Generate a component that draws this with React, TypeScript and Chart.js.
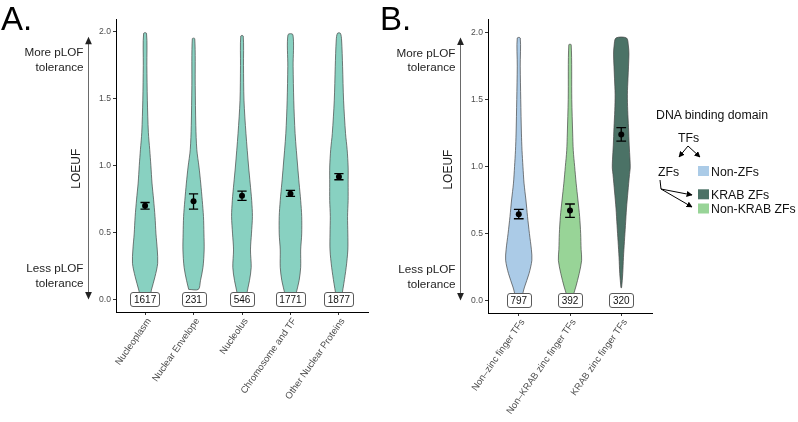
import React, { useEffect, useRef } from "react";
import { Chart, registerables } from "chart.js";

Chart.register(...registerables);

const FONT = "'Liberation Sans', Arial, Helvetica, sans-serif";
Chart.defaults.font.family = FONT;

// ---------------- Panel A data ----------------
const categoriesA = [
  "Nucleoplasm",
  "Nuclear Envelope",
  "Nucleolus",
  "Chromosome and TF",
  "Other Nuclear Proteins",
];
const countsA = [1617, 231, 546, 1771, 1877];
const meansA = [0.7, 0.735, 0.775, 0.79, 0.918];
const lowerA = [0.675, 0.675, 0.74, 0.77, 0.895];
const upperA = [0.725, 0.79, 0.81, 0.815, 0.94];
const colorsA = ["#88D1C1", "#88D1C1", "#88D1C1", "#88D1C1", "#88D1C1"];

// violin outlines: [LOEUF, half width in category units]
const violinNucleoplasm = [
  [0, 0.085], [0.07, 0.13], [0.17, 0.205], [0.27, 0.26], [0.37, 0.252], [0.49, 0.225],
  [0.62, 0.205], [0.75, 0.175], [0.87, 0.143], [1.0, 0.12], [1.12, 0.096], [1.25, 0.068],
  [1.49, 0.047], [1.75, 0.037], [1.99, 0.03],
];
const violinNuclearEnvelope = [
  [0.075, 0.1], [0.14, 0.143], [0.24, 0.195], [0.37, 0.219], [0.49, 0.215], [0.62, 0.205],
  [0.74, 0.18], [0.87, 0.148], [0.99, 0.113], [1.12, 0.068], [1.3, 0.047], [1.6, 0.035],
  [1.95, 0.025],
];
const violinNucleolus = [
  [0, 0.092], [0.045, 0.1], [0.14, 0.154], [0.24, 0.19], [0.37, 0.175], [0.49, 0.195],
  [0.62, 0.215], [0.74, 0.2], [0.87, 0.168], [0.99, 0.137], [1.24, 0.082], [1.49, 0.041],
  [1.75, 0.031], [1.97, 0.025],
];
const violinChromosome = [
  [0, 0.092], [0.045, 0.117], [0.14, 0.178], [0.24, 0.211], [0.37, 0.211], [0.49, 0.232],
  [0.62, 0.232], [0.74, 0.211], [0.87, 0.178], [0.99, 0.15], [1.24, 0.096], [1.49, 0.068],
  [1.74, 0.055], [1.98, 0.051],
];
const violinOtherNuclear = [
  [0, 0.051], [0.045, 0.068], [0.12, 0.102], [0.24, 0.15], [0.37, 0.184], [0.49, 0.184],
  [0.62, 0.178], [0.74, 0.19], [0.87, 0.19], [0.99, 0.19], [1.12, 0.17], [1.24, 0.137],
  [1.49, 0.096], [1.74, 0.076], [1.94, 0.055], [1.99, 0.03],
];
const shapesA = [
  violinNucleoplasm,
  violinNuclearEnvelope,
  violinNucleolus,
  violinChromosome,
  violinOtherNuclear,
];

// ---------------- Panel B data ----------------
const categoriesB = [
  "Non\u2013zinc finger TFs",
  "Non\u2013KRAB zinc finger TFs",
  "KRAB zinc finger TFs",
];
const countsB = [797, 392, 320];
const meansB = [0.644, 0.672, 1.239];
const lowerB = [0.61, 0.62, 1.19];
const upperB = [0.68, 0.72, 1.29];
const colorsB = ["#ABCBE7", "#98D497", "#4B7266"];

const violinNonZF = [
  [0, 0.068], [0.055, 0.082], [0.1, 0.113], [0.2, 0.2], [0.3, 0.256], [0.378, 0.247],
  [0.5, 0.208], [0.627, 0.171], [0.75, 0.14], [0.876, 0.103], [1.0, 0.082], [1.12, 0.064],
  [1.25, 0.052], [1.5, 0.039], [1.75, 0.029], [1.96, 0.029],
];
const violinNonKrabZF = [
  [0, 0.058], [0.055, 0.078], [0.1, 0.113], [0.2, 0.179], [0.3, 0.227], [0.38, 0.217],
  [0.5, 0.208], [0.627, 0.188], [0.75, 0.155], [0.876, 0.12], [1.0, 0.091], [1.12, 0.064],
  [1.25, 0.052], [1.5, 0.035], [1.91, 0.023],
];
const violinKrabZF = [
  [0.095, 0.006], [0.2, 0.029], [0.32, 0.043], [0.44, 0.062], [0.56, 0.082], [0.69, 0.103],
  [0.81, 0.13], [0.94, 0.161], [0.99, 0.175], [1.05, 0.171], [1.16, 0.155], [1.29, 0.142],
  [1.42, 0.126], [1.54, 0.12], [1.66, 0.132], [1.75, 0.142], [1.84, 0.15], [1.9, 0.14],
  [1.96, 0.103],
];
const shapesB = [violinNonZF, violinNonKrabZF, violinKrabZF];

const legendLabels = ["Non-ZFs", "KRAB ZFs", "Non-KRAB ZFs"];

const yTicks = [0, 0.5, 1, 1.5, 2];

// ---------------- helpers ----------------
function violinPoints(center: number, shape: number[][]) {
  const left = shape.map(([y, w]) => ({ x: center - w, y }));
  const right = shape
    .slice()
    .reverse()
    .map(([y, w]) => ({ x: center + w, y }));
  return [...left, ...right, left[0]];
}

function errorBarPoints(lo: number[], hi: number[], cap: number) {
  const pts: any[] = [];
  lo.forEach((l, i) => {
    const c = i + 1;
    const h = hi[i];
    pts.push(
      { x: c - cap, y: l }, { x: c + cap, y: l }, { x: c, y: null },
      { x: c, y: l }, { x: c, y: h }, { x: c, y: null },
      { x: c - cap, y: h }, { x: c + cap, y: h }, { x: c, y: null }
    );
  });
  return pts;
}

const violinFillPlugin = {
  id: "violinFill",
  beforeDatasetDraw(chart: any, args: any) {
    const ds = chart.data.datasets[args.index];
    if (!ds.violinFill) return;
    const line = args.meta.dataset;
    if (!line) return;
    const ctx = chart.ctx;
    line.updateControlPoints(chart.chartArea, "x");
    ctx.save();
    ctx.beginPath();
    line.path(ctx);
    ctx.closePath();
    ctx.fillStyle = ds.violinFill;
    ctx.fill();
    ctx.restore();
  },
};

function countPlugin(counts: number[]) {
  return {
    id: "countLabels",
    afterDatasetsDraw(chart: any) {
      const ctx = chart.ctx;
      const xs = chart.scales.x;
      const ys = chart.scales.y;
      ctx.save();
      ctx.font = `10px ${FONT}`;
      ctx.textAlign = "center";
      ctx.textBaseline = "middle";
      counts.forEach((c, i) => {
        const x = xs.getPixelForValue(i + 1);
        const y = ys.getPixelForValue(0);
        const t = String(c);
        const w = ctx.measureText(t).width + 7;
        const h = 14;
        ctx.beginPath();
        ctx.roundRect(Math.round(x - w / 2) + 0.5, Math.round(y - h / 2) + 0.5, Math.round(w), h, 2.5);
        ctx.fillStyle = "#ffffff";
        ctx.fill();
        ctx.strokeStyle = "#5a5a5a";
        ctx.lineWidth = 1;
        ctx.stroke();
        ctx.fillStyle = "#111";
        ctx.fillText(t, x, y + 0.5);
      });
      ctx.restore();
    },
  };
}

const sideNotePlugin = {
  id: "sideNote",
  afterDraw(chart: any) {
    const ctx = chart.ctx;
    const ys = chart.scales.y;
    const left = chart.chartArea.left;
    const ax = Math.round(left - 28) + 0.5;
    const yTop = ys.getPixelForValue(1.964);
    const yBot = ys.getPixelForValue(0.0);
    ctx.save();
    ctx.strokeStyle = "#6a6a6a";
    ctx.lineWidth = 1;
    ctx.beginPath();
    ctx.moveTo(ax, yTop + 6);
    ctx.lineTo(ax, yBot - 6);
    ctx.stroke();
    ctx.fillStyle = "#222";
    ctx.beginPath();
    ctx.moveTo(ax, yTop);
    ctx.lineTo(ax - 3.4, yTop + 7.5);
    ctx.lineTo(ax + 3.4, yTop + 7.5);
    ctx.closePath();
    ctx.fill();
    ctx.beginPath();
    ctx.moveTo(ax, yBot);
    ctx.lineTo(ax - 3.4, yBot - 7.5);
    ctx.lineTo(ax + 3.4, yBot - 7.5);
    ctx.closePath();
    ctx.fill();

    ctx.font = `11.7px ${FONT}`;
    ctx.textAlign = "right";
    ctx.textBaseline = "middle";
    ctx.fillStyle = "#1e1e1e";
    const tx = left - 32.5;
    ctx.fillText("More pLOF", tx, ys.getPixelForValue(1.844));
    ctx.fillText("tolerance", tx, ys.getPixelForValue(1.736));
    ctx.fillText("Less pLOF", tx, ys.getPixelForValue(0.226));
    ctx.fillText("tolerance", tx, ys.getPixelForValue(0.116));

    ctx.translate(left - 39, ys.getPixelForValue(0.977));
    ctx.rotate(-Math.PI / 2);
    ctx.textAlign = "center";
    ctx.font = `12px ${FONT}`;
    ctx.fillText("LOEUF", 0, 0);
    ctx.restore();
  },
};

function makePanel(
  canvas: HTMLCanvasElement,
  cats: string[],
  shapes: number[][][],
  colors: string[],
  means: number[],
  lo: number[],
  hi: number[],
  counts: number[],
  geo: { yWidth: number; xHeight: number; padRight: number; xMax: number; yMin: number; yMax: number }
) {
  const datasets: any[] = shapes.map((s, i) => ({
    type: "scatter",
    order: 2,
    data: violinPoints(i + 1, s),
    showLine: true,
    tension: 0.3,
    borderColor: "#454545",
    borderWidth: 0.7,
    pointRadius: 0,
    violinFill: colors[i],
    fill: false,
  }));
  datasets.push({
    type: "scatter",
    order: 1,
    data: errorBarPoints(lo, hi, 0.095),
    showLine: true,
    spanGaps: false,
    borderColor: "#000",
    borderWidth: 1.3,
    pointRadius: 0,
  });
  datasets.push({
    type: "scatter",
    order: 0,
    data: means.map((m, i) => ({ x: i + 1, y: m })),
    pointRadius: 3,
    pointBackgroundColor: "#000",
    pointBorderColor: "#000",
    pointBorderWidth: 0,
  });

  return new Chart(canvas, {
    type: "scatter",
    data: { datasets },
    options: {
      animation: false,
      responsive: false,
      maintainAspectRatio: false,
      devicePixelRatio: 1,
      layout: { padding: { top: 19, right: geo.padRight, left: 0, bottom: 0 } },
      plugins: { legend: { display: false }, tooltip: { enabled: false } },
      scales: {
        x: {
          type: "linear",
          min: 0.4,
          max: geo.xMax,
          afterBuildTicks: (s: any) => {
            s.ticks = cats.map((_, i) => ({ value: i + 1 }));
          },
          afterFit: (s: any) => {
            s.height = geo.xHeight;
          },
          ticks: {
            autoSkip: false,
            minRotation: 55,
            maxRotation: 55,
            padding: 1,
            labelOffset: 4,
            color: "#4d4d4d",
            font: { size: 9.5 },
            callback: (v: any) => cats[Math.round(v) - 1],
          },
          grid: { display: true, drawOnChartArea: false, drawTicks: true, tickLength: 3, color: "#333" },
          border: { display: true, color: "#000", width: 1 },
        },
        y: {
          type: "linear",
          min: geo.yMin,
          max: geo.yMax,
          afterBuildTicks: (s: any) => {
            s.ticks = yTicks.map((v) => ({ value: v }));
          },
          afterFit: (s: any) => {
            s.width = geo.yWidth;
          },
          ticks: {
            padding: 2,
            color: "#4d4d4d",
            font: { size: 8.6 },
            callback: (v: any) => Number(v).toFixed(1),
          },
          grid: { display: true, drawOnChartArea: false, drawTicks: true, tickLength: 3, color: "#333" },
          border: { display: true, color: "#000", width: 1 },
        },
      },
    } as any,
    plugins: [violinFillPlugin, countPlugin(counts), sideNotePlugin] as any,
  });
}

export default function App() {
  const refA = useRef<HTMLCanvasElement>(null);
  const refB = useRef<HTMLCanvasElement>(null);

  useEffect(() => {
    const a = makePanel(refA.current!, categoriesA, shapesA, colorsA, meansA, lowerA, upperA, countsA, {
      yWidth: 116,
      xHeight: 110,
      padRight: 20,
      xMax: 5.6,
      yMin: -0.094,
      yMax: 2.097,
    });
    const b = makePanel(refB.current!, categoriesB, shapesB, colorsB, meansB, lowerB, upperB, countsB, {
      yWidth: 100,
      xHeight: 109,
      padRight: 146,
      xMax: 3.6,
      yMin: -0.094,
      yMax: 2.102,
    });
    return () => {
      a.destroy();
      b.destroy();
    };
  }, []);

  const legendFont = { fontFamily: FONT, fontSize: 12.3, fill: "#111" } as any;

  return (
    <div
      style={{
        position: "fixed",
        left: 0,
        top: 0,
        width: 798,
        height: 422,
        background: "#fff",
        overflow: "hidden",
      }}
    >
      <canvas ref={refA} width={388} height={422} style={{ position: "absolute", left: 0, top: 0, display: "block" }} />
      <canvas ref={refB} width={410} height={422} style={{ position: "absolute", left: 388, top: 0, display: "block" }} />
      <svg
        width={798}
        height={422}
        style={{ position: "absolute", left: 0, top: 0, pointerEvents: "none" }}
      >
        <defs>
          <marker id="ah" viewBox="0 0 10 10" refX="9" refY="5" markerWidth="6" markerHeight="6" orient="auto">
            <path d="M0,0 L10,5 L0,10 z" fill="#000" />
          </marker>
        </defs>
        <text x={1} y={30} style={{ fontFamily: FONT, fontSize: 33, fill: "#000" }}>A.</text>
        <text x={380} y={30} style={{ fontFamily: FONT, fontSize: 33, fill: "#000" }}>B.</text>

        <text x={656} y={119} style={legendFont}>DNA binding domain</text>
        <text x={678} y={141.5} style={legendFont}>TFs</text>
        <line x1={688} y1={146} x2={679} y2={157} stroke="#000" strokeWidth={1} markerEnd="url(#ah)" />
        <line x1={688} y1={146} x2={700} y2={157} stroke="#000" strokeWidth={1} markerEnd="url(#ah)" />
        <text x={658} y={175.7} style={legendFont}>ZFs</text>
        <polyline points="660,180 661,189 692,195" fill="none" stroke="#000" strokeWidth={1} markerEnd="url(#ah)" />
        <line x1={661} y1={189} x2={692} y2={207} stroke="#000" strokeWidth={1} markerEnd="url(#ah)" />

        <rect x={698} y={166} width={11} height={10} fill={colorsB[0]} />
        <text x={711} y={175.7} style={legendFont}>{legendLabels[0]}</text>
        <rect x={698} y={189.3} width={11} height={10} fill={colorsB[2]} />
        <text x={711} y={198.8} style={legendFont}>{legendLabels[1]}</text>
        <rect x={698} y={203.5} width={11} height={10} fill={colorsB[1]} />
        <text x={711} y={213} style={legendFont}>{legendLabels[2]}</text>
      </svg>
    </div>
  );
}
